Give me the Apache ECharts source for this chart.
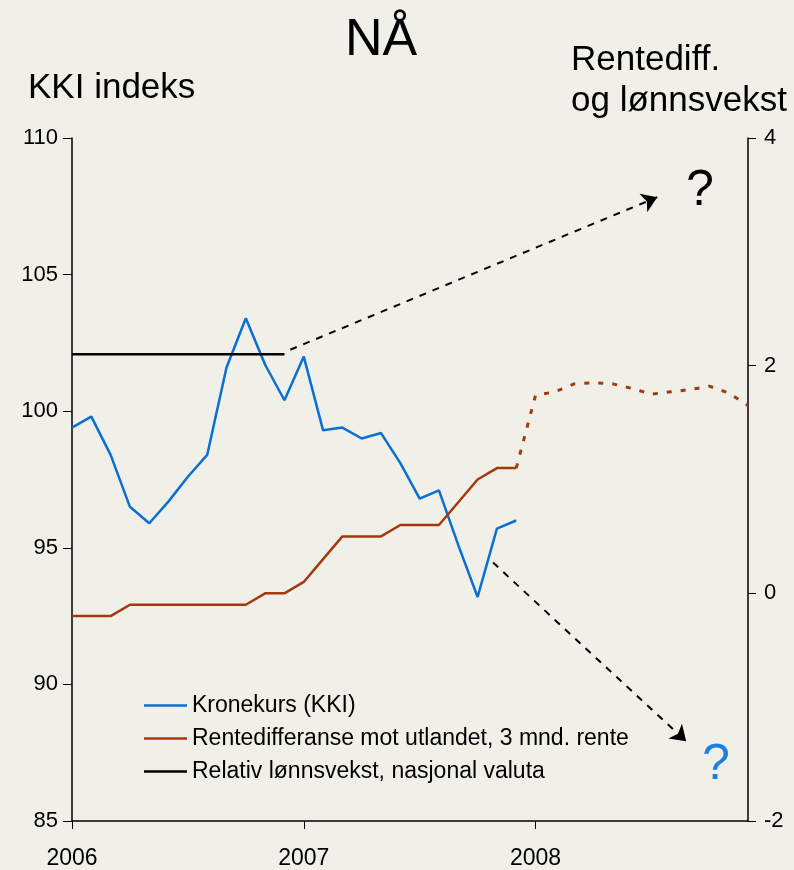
<!DOCTYPE html>
<html>
<head>
<meta charset="utf-8">
<script src="https://cdn.jsdelivr.net/npm/echarts@6/dist/echarts.min.js"></script>
<style>
  html, body { margin: 0; padding: 0; background: #f0efe8; }
  #chart { width: 794px; height: 870px; }
</style>
</head>
<body>
<div id="chart"></div>
<script>
// month index 0 = jan 2006
const yearLabels = ['2006', '2007', '2008']
const yearTicks = [0, 12, 24]

// Kronekurs (KKI), jan 2006 - des 2007
const kki = [99.4, 99.8, 98.4, 96.5, 95.9, 96.7, 97.6, 98.4, 101.6, 103.4, 101.7, 100.4,
  102.0, 99.3, 99.4, 99.0, 99.2, 98.1, 96.8, 97.1, 95.1, 93.2, 95.7, 96.0]
// Rentedifferanse, faktisk
const rente = [-0.2, -0.2, -0.2, -0.1, -0.1, -0.1, -0.1, -0.1, -0.1, -0.1, 0.0, 0.0,
  0.1, 0.3, 0.5, 0.5, 0.5, 0.6, 0.6, 0.6, 0.8, 1.0, 1.1, 1.1]
// Rentedifferanse, forventet (fra des 2007)
const renteFrom = 23
const renteForecast = [1.1, 1.74, 1.77, 1.84, 1.85, 1.84, 1.80, 1.75, 1.77, 1.79, 1.82, 1.76, 1.65]
// Relativ lønnsvekst
const lonn = [2.1, 2.1, 2.1, 2.1, 2.1, 2.1, 2.1, 2.1, 2.1, 2.1, 2.1, 2.1]

// dashed arrows, [month, rentediff-axis value]
const arrowUp = [[11.3, 2.14], [30.3, 3.48]]
const arrowDown = [[21.8, 0.27], [31.8, -1.30]]

const font = '"Liberation Sans", Arial, sans-serif'
const toPairs = (arr, start = 0) => arr.map((v, i) => [start + i, v])

const chart = echarts.init(document.getElementById('chart'), null, { renderer: 'canvas' })

chart.setOption({
  backgroundColor: '#f0efe8',
  animation: false,
  textStyle: { fontFamily: font },
  title: [
    { text: 'NÅ', left: 340, top: 10, textStyle: { fontSize: 52, fontWeight: 'normal', color: '#000', fontFamily: font } },
    { text: 'KKI indeks', left: 23, top: 66, textStyle: { fontSize: 35, fontWeight: 'normal', color: '#000', fontFamily: font } },
    { text: 'Rentediff.\nog lønnsvekst', left: 566, top: 35, textStyle: { fontSize: 35, lineHeight: 41, fontWeight: 'normal', color: '#000', fontFamily: font } }
  ],
  grid: { left: 72, right: 46, top: 138, bottom: 44, containLabel: false },
  legend: {
    orient: 'vertical',
    left: 139,
    top: 689,
    icon: 'rect',
    itemWidth: 43,
    itemHeight: 2.5,
    itemGap: 10,
    data: ['Kronekurs (KKI)', 'Rentedifferanse mot utlandet, 3 mnd. rente', 'Relativ lønnsvekst, nasjonal valuta'],
    textStyle: { fontSize: 23, lineHeight: 22, color: '#000', fontFamily: font }
  },
  xAxis: {
    type: 'value',
    min: 0,
    max: 35,
    interval: 12,
    axisLine: { onZero: false, lineStyle: { color: '#000', width: 1.5 } },
    axisTick: { customValues: yearTicks, length: 8, lineStyle: { color: '#000' } },
    axisLabel: {
      customValues: yearTicks,
      formatter: v => yearLabels[yearTicks.indexOf(v)],
      margin: 26, fontSize: 23, color: '#000', fontFamily: font
    },
    splitLine: { show: false }
  },
  yAxis: [
    {
      type: 'value', min: 85, max: 110, interval: 5,
      axisLine: { show: true, onZero: false, lineStyle: { color: '#000', width: 1.5 } },
      axisTick: { show: true, length: 9, lineStyle: { color: '#000' } },
      axisLabel: { margin: 14, fontSize: 22, color: '#000', fontFamily: font },
      splitLine: { show: false }
    },
    {
      type: 'value', min: -2, max: 4, interval: 2, position: 'right',
      axisLine: { show: true, onZero: false, lineStyle: { color: '#000', width: 1.5 } },
      axisTick: { show: true, length: 8, lineStyle: { color: '#000' } },
      axisLabel: { margin: 16, fontSize: 22, color: '#000', fontFamily: font },
      splitLine: { show: false }
    }
  ],
  series: [
    {
      name: 'Kronekurs (KKI)', type: 'line', yAxisIndex: 0, symbol: 'none',
      data: toPairs(kki),
      itemStyle: { color: '#0a6fd2' },
      lineStyle: { color: '#0a6fd2', width: 2.5 }
    },
    {
      name: 'Rentedifferanse mot utlandet, 3 mnd. rente', type: 'line', yAxisIndex: 1, symbol: 'none',
      data: toPairs(rente),
      itemStyle: { color: '#a33a0c' },
      lineStyle: { color: '#a33a0c', width: 2.5 }
    },
    {
      name: 'rente prognose', type: 'line', yAxisIndex: 1, symbol: 'none',
      data: toPairs(renteForecast, renteFrom),
      lineStyle: { color: '#a33a0c', width: 3, type: [5, 9] }
    },
    {
      name: 'Relativ lønnsvekst, nasjonal valuta', type: 'line', yAxisIndex: 1, symbol: 'none',
      data: toPairs(lonn),
      itemStyle: { color: '#000' },
      lineStyle: { color: '#000', width: 2.5 },
      markLine: {
        silent: true,
        symbol: ['none', 'arrow'],
        symbolSize: 15,
        label: { show: false },
        lineStyle: { color: '#000', width: 2, type: [7, 7] },
        data: [
          [{ coord: arrowUp[0] }, { coord: arrowUp[1] }],
          [{ coord: arrowDown[0] }, { coord: arrowDown[1] }]
        ]
      }
    }
  ],
  graphic: [
    { type: 'text', left: 686, top: 166, style: { text: '?', fontSize: 50, fill: '#000', fontFamily: font } },
    { type: 'text', left: 702, top: 740, style: { text: '?', fontSize: 50, fill: '#1f7fe0', fontFamily: font } }
  ]
})
</script>
</body>
</html>
